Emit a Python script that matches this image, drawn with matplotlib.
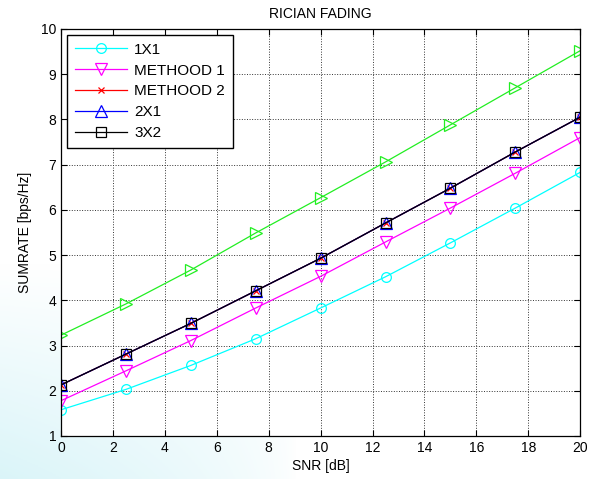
import numpy as np
import matplotlib.pyplot as plt

plt.rcParams['font.family'] = ['Liberation Sans', 'DejaVu Sans']

snr = [0, 2.5, 5, 7.5, 10, 12.5, 15, 17.5, 20]
siso = [1.58, 2.03, 2.56, 3.15, 3.83, 4.52, 5.27, 6.04, 6.83]
method1 = [1.78, 2.44, 3.11, 3.83, 4.53, 5.29, 6.04, 6.81, 7.60]
method2 = [2.13, 2.81, 3.49, 4.21, 4.93, 5.71, 6.48, 7.28, 8.05]
miso = [2.13, 2.81, 3.49, 4.21, 4.93, 5.71, 6.48, 7.28, 8.05]
mimo = [2.13, 2.81, 3.49, 4.21, 4.93, 5.71, 6.48, 7.28, 8.05]
green = [3.23, 3.92, 4.67, 5.49, 6.27, 7.06, 7.88, 8.70, 9.52]
labels = ["1X1", "METHOOD 1", "METHOOD 2", "2X1", "3X2"]

fig = plt.figure(figsize=(5.9, 4.79), dpi=100)

# faint watermark behind the chart
bg = fig.add_axes([0, 0, 1, 1], zorder=-1)
yy, xx = np.mgrid[0:1:200j, 0:1:200j]
alpha = np.clip((0.45 - yy) / 0.45, 0, 1) * np.clip((0.5 - xx) / 0.5, 0, 1) ** 0.6
img = np.ones((200, 200, 4))
img[..., 0] = 0.82
img[..., 1] = 0.95
img[..., 2] = 0.97
img[..., 3] = alpha * 0.8
bg.imshow(img, origin='lower', extent=[0, 1, 0, 1], aspect='auto')
bg.set_xlim(0, 1)
bg.set_ylim(0, 1)
bg.axis('off')

ax = fig.add_axes([0.1034, 0.0898, 0.880, 0.8497])
ax.set_facecolor('white')

kw = dict(lw=0.9, mfc='none', mew=0.9)
ax.plot(snr, siso, color='cyan', marker='o', ms=7, label=labels[0], **kw)
ax.plot(snr, method1, color='magenta', marker='v', ms=8, label=labels[1], **kw)
ax.plot(snr, method2, color='red', marker='x', ms=4, label=labels[2], lw=0.9, mew=0.9)
ax.plot(snr, miso, color='blue', marker='^', ms=8, label=labels[3], **kw)
ax.plot(snr, mimo, color='black', marker='s', ms=7, label=labels[4], **kw)
ax.plot(snr, green, color='#22ee22', marker='>', ms=8, **kw)

ax.set_xlim(0, 20)
ax.set_ylim(1, 10)
ax.set_xticks(np.arange(0, 21, 2))
ax.set_yticks(np.arange(1, 11, 1))
ax.grid(True, color='#333333', linestyle=':', linewidth=0.7)
ax.tick_params(direction='in', top=True, right=True, labelsize=10, length=4, width=0.8)
for s in ax.spines.values():
    s.set_linewidth(0.9)

ax.set_title("RICIAN FADING", fontsize=10, pad=8)
ax.set_xlabel("SNR [dB]", fontsize=10, labelpad=3)
ax.set_ylabel("SUMRATE [bps/Hz]", fontsize=10, labelpad=6)

leg = ax.legend(loc='upper left', fontsize=11, fancybox=False, framealpha=1,
                edgecolor='black', borderaxespad=0.4, handlelength=3.4,
                handletextpad=0.5, labelspacing=0.45, borderpad=0.5)
leg.get_frame().set_linewidth(1.0)

fig.savefig("out.png", dpi=100)
